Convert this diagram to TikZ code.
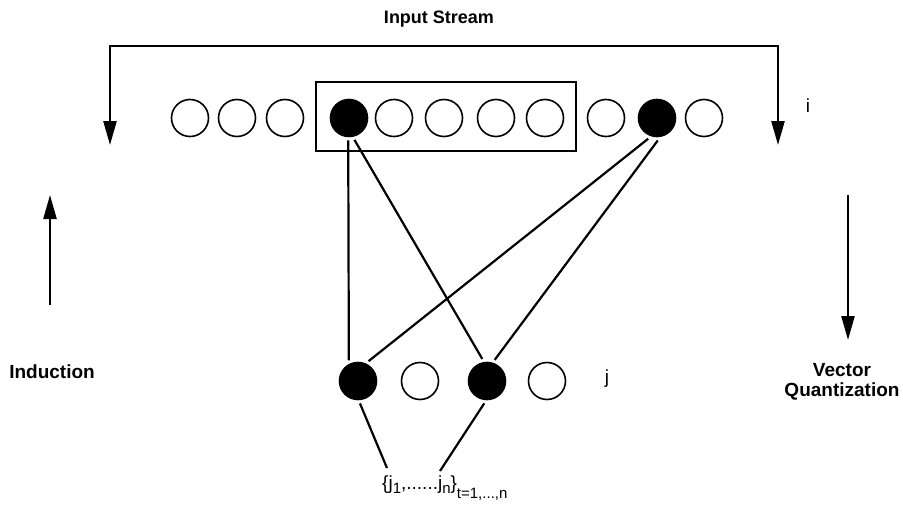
\documentclass[tikz,border=0pt]{standalone}
\usepackage{fontspec}
\setmainfont{Liberation Sans}
\usetikzlibrary{arrows.meta}

\begin{document}
\begin{tikzpicture}[x=1pt,y=-1pt,
    unit/.style={draw,circle,minimum size=37pt,inner sep=0pt,outer sep=4pt,line width=1.6pt},
    hit/.style={unit,fill=black},
    link/.style={line width=2.2pt},
    flow/.style={line width=2.4pt},
    tip/.style={-{Triangle[width=13pt,length=24pt]}},
    lbl/.style={font=\bfseries\fontsize{19}{22}\selectfont},
    txt/.style={font=\fontsize{19}{22}\selectfont}]

  \useasboundingbox (0,0) rectangle (903,506);

  % input stream, top row of units
  \foreach \x/\s [count=\k] in {190/unit,237/unit,285/unit,349/hit,394/unit,444/unit,
                                496/unit,545/unit,606/unit,657/hit,704/unit}
    \node[\s] (i\k) at (\x,118) {};
  \draw[line width=2pt] (316,82) rectangle (576,151);

  % codebook row
  \foreach \x/\s [count=\k] in {358/hit,420/unit,487/hit,547/unit}
    \node[\s] (j\k) at (\x,381) {};

  \draw[link] (i4.-92) -- (j1.114);
  \draw[link] (i4.-76) -- (j3.102);
  \draw[link] (i10.-113) -- (j1.62);
  \draw[link] (i10.-88) -- (j3.70);

  \coordinate (s1) at (387,468);
  \coordinate (s2) at (440,471);
  \draw[link] (j1.-85) -- (s1);
  \draw[link] (j3.-97) -- (s2);

  % frame of the stream
  \coordinate (fl) at (110,145);
  \coordinate (fr) at (778,145);
  \coordinate (ft) at (778,46);
  \draw[flow,{Triangle[width=13pt,length=24pt]}-{Triangle[width=13pt,length=24pt]}]
    (fl) |- (ft) -- (fr);

  \coordinate (ub) at (50,305);
  \coordinate (ut) at (50,195);
  \draw[flow,tip] (ub) -- (ut);
  \coordinate (vt) at (848,195);
  \coordinate (vb) at (848,340);
  \draw[flow,tip] (vt) -- (vb);

  % labels
  \node[lbl,font=\bfseries\fontsize{18}{21}\selectfont] (stream) at (439,19) {Input Stream};
  \node[lbl] (ind) at (52,372) {Induction};
  \node[lbl,align=center] (vq) at (842,382) {Vector\\[-2pt]Quantization};
  \node[txt] (li) at (808,106) {i};
  \node[txt] (lj) at (607,379) {j};
  \node[txt,anchor=base west,inner sep=0pt] (set) at (382,489)
    {\{j\raisebox{-0.45ex}{\fontsize{15}{17}\selectfont 1},......j\raisebox{-0.45ex}{\fontsize{15}{17}\selectfont n}\}\raisebox{-0.9ex}{\fontsize{15}{17}\selectfont t=1,...,n}};
\end{tikzpicture}
\end{document}
